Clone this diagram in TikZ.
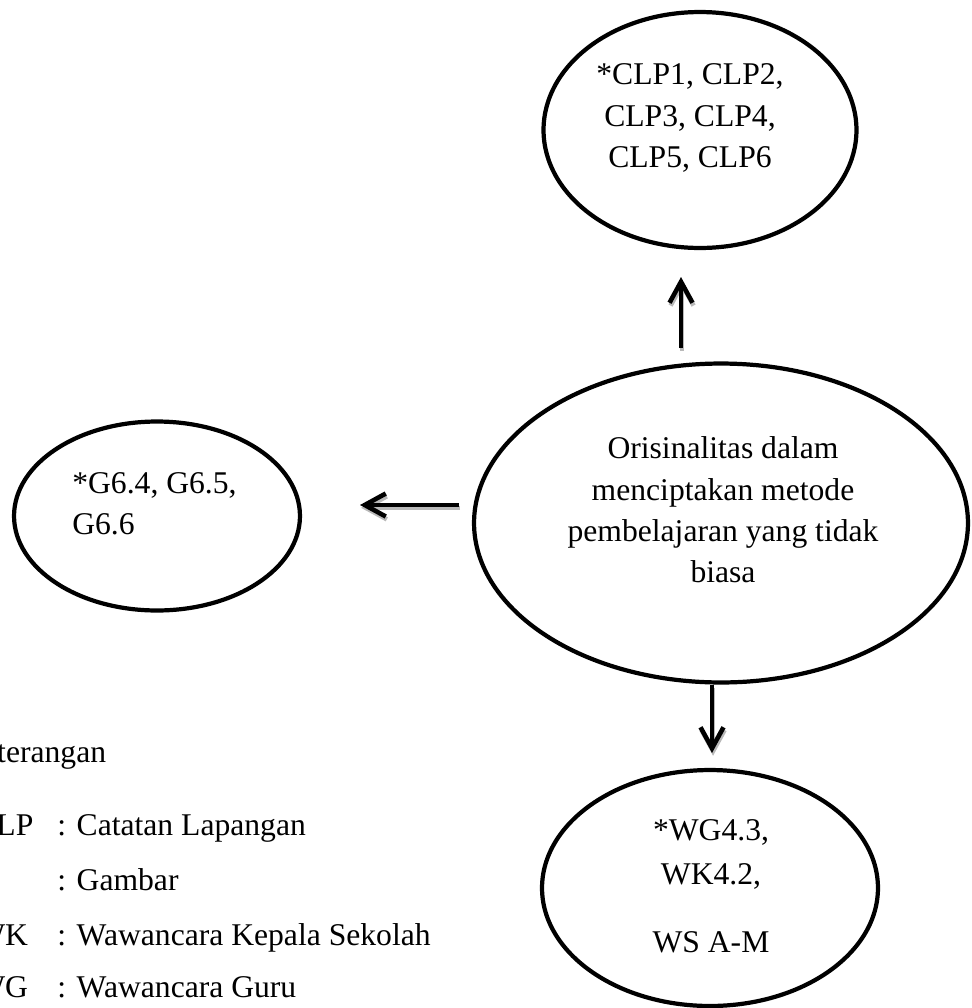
\documentclass[tikz,border=0pt]{standalone}
\usepackage{fontspec}
\setmainfont{Liberation Serif}
\usetikzlibrary{shapes.geometric,arrows.meta}

\begin{document}
\begin{tikzpicture}[
  x=0.02cm, y=-0.02cm,
  oval/.style={ellipse, draw, line width=2.4pt, inner sep=0pt},
  txt/.style={inner sep=0pt, align=center, font=\fontsize{18pt}{23.5pt}\selectfont},
  key/.style={inner sep=0pt, anchor=base west, font=\fontsize{18pt}{23.5pt}\selectfont},
  flow/.style={line width=2.6pt, -{Straight Barb[length=0.42cm, width=0.46cm]}},
  flowshadow/.style={flow, draw=gray!55, transform canvas={shift={(0.6pt,-1.6pt)}}},
]
\clip (0,0) rectangle (971,1008);

% ellipses
\node[oval, minimum width=6.26cm, minimum height=4.72cm] (clp) at (700,130) {};
\node[oval, minimum width=9.88cm, minimum height=6.38cm] (main) at (721,523) {};
\node[oval, minimum width=5.72cm, minimum height=3.78cm] (gbr) at (157,516) {};
\node[oval, minimum width=6.72cm, minimum height=4.72cm] (wcr) at (710,888) {};

% texts
\node[txt] (clptext) at (690,118) {*CLP1, CLP2,\\CLP3, CLP4,\\CLP5, CLP6};
\node[txt] (maintext) at (723,510) {Orisinalitas dalam\\menciptakan metode\\pembelajaran yang tidak\\biasa};
\node[txt, align=left, anchor=west] (gbrtext) at (72,504) {*G6.4, G6.5,\\G6.6};
\node[txt] (wcrtext) at (711,886) {*WG4.3,\\[2pt]WK4.2,\\[15pt]WS A-M};

% arrows
\coordinate (uptail) at (681,348);
\coordinate (uphead) at (681,277);
\coordinate (lefttail) at (459,505);
\coordinate (lefthead) at (360,505);
\coordinate (downtail) at (712,685);
\coordinate (downhead) at (712,753);
\foreach \a/\b in {uptail/uphead, lefttail/lefthead, downtail/downhead} {
  \draw[flowshadow] (\a) -- (\b);
  \draw[flow] (\a) -- (\b);
}

% legend
\node[key] (ket) at (-40,762) {Keterangan};
\node[key] (clpkey) at (-25,835) {CLP};
\node[key] (clpdesc) at (57,835) {: Catatan Lapangan};
\node[key] (gbrdesc) at (57,890) {: Gambar};
\node[key] (wkkey) at (-25,945) {WK};
\node[key] (wkdesc) at (57,945) {: Wawancara Kepala Sekolah};
\node[key] (wgkey) at (-25,997) {WG};
\node[key] (wgdesc) at (57,997) {: Wawancara Guru};
\end{tikzpicture}
\end{document}
